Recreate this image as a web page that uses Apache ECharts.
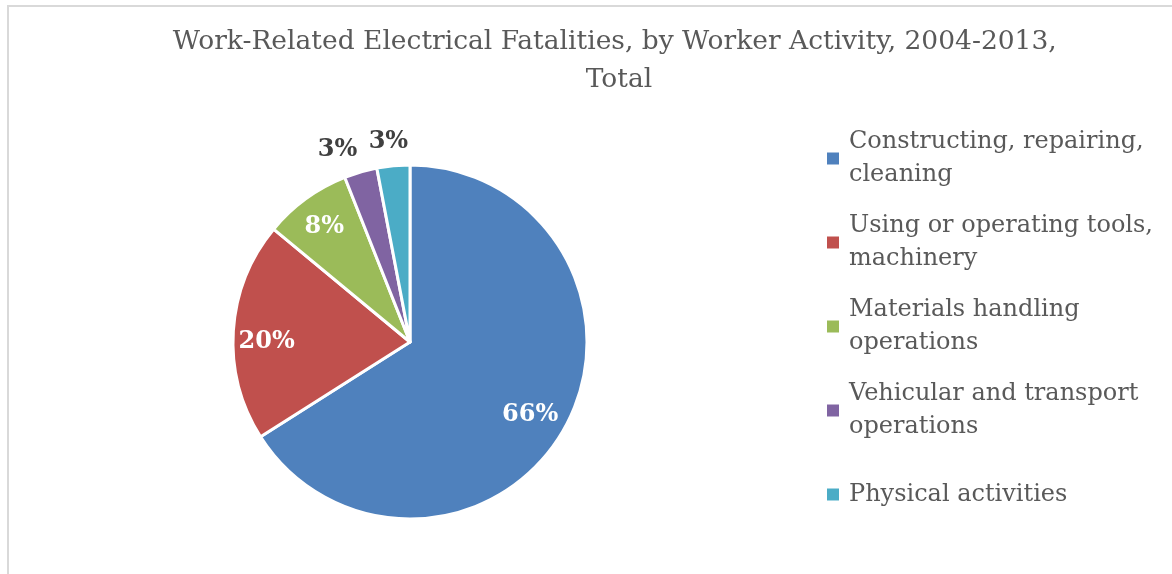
<!DOCTYPE html>
<html>
<head>
<meta charset="utf-8">
<script src="https://cdn.jsdelivr.net/npm/echarts@6/dist/echarts.min.js"></script>
<style>html,body{margin:0;padding:0;background:#fff}#c{width:1172px;height:574px}</style>
</head>
<body>
<div id="c"></div>
<script>
const titleText = 'Work-Related Electrical Fatalities, by Worker Activity, 2004-2013, \nTotal';
const categories = [
  'Constructing, repairing,\ncleaning',
  'Using or operating tools,\nmachinery',
  'Materials handling\noperations',
  'Vehicular and transport\noperations',
  'Physical activities'
];
const shares = [66, 20, 8, 3, 3];
const colors = ['#4F81BD', '#C0504D', '#9BBB59', '#8064A2', '#4BACC6'];

const FONT = 'DejaVu Serif';
const labelOffsets = [[40, 29], [-52, 6], [-32, -41], [-47, -104], [-13, -109]];
const labelColors = ['#fff', '#fff', '#fff', '#404040', '#404040'];

const chart = echarts.init(document.getElementById('c'));
chart.setOption({
  animation: false,
  title: {
    text: titleText,
    left: 619, top: 23, textAlign: 'center', padding: 0,
    textStyle: { fontFamily: FONT, fontSize: 26.5, fontWeight: 'normal', color: '#595959', lineHeight: 38 }
  },
  legend: {
    orient: 'vertical', left: 827, top: 109, padding: 0,
    itemWidth: 12, itemHeight: 12, itemGap: -15,
    icon: 'rect',
    itemStyle: { borderWidth: 0 },
    data: categories.map((c, i) => ({
      name: c,
      textStyle: { padding: c.indexOf('\n') >= 0 ? [33, 0, 0, 5] : [33, 0, 33, 5] }
    })),
    textStyle: { fontFamily: FONT, fontSize: 24, color: '#595959', lineHeight: 33 }
  },
  graphic: [{
    type: 'rect', silent: true, z: -1,
    shape: { x: 8, y: 6, width: 1300, height: 700 },
    style: { fill: 'none', stroke: '#d9d9d9', lineWidth: 2 }
  }],
  series: [{
    type: 'pie',
    center: [410, 342], radius: 177,
    startAngle: 90, clockwise: true,
    avoidLabelOverlap: false,
    labelLine: { show: false },
    itemStyle: { borderColor: '#fff', borderWidth: 3 },
    data: categories.map((c, i) => ({
      name: c, value: shares[i],
      itemStyle: { color: colors[i] },
      label: { offset: labelOffsets[i], color: labelColors[i] }
    })),
    label: {
      position: 'inside',
      formatter: p => p.value + '%',
      fontFamily: FONT, fontSize: 24, fontWeight: 'bold'
    }
  }]
});
</script>
</body>
</html>
